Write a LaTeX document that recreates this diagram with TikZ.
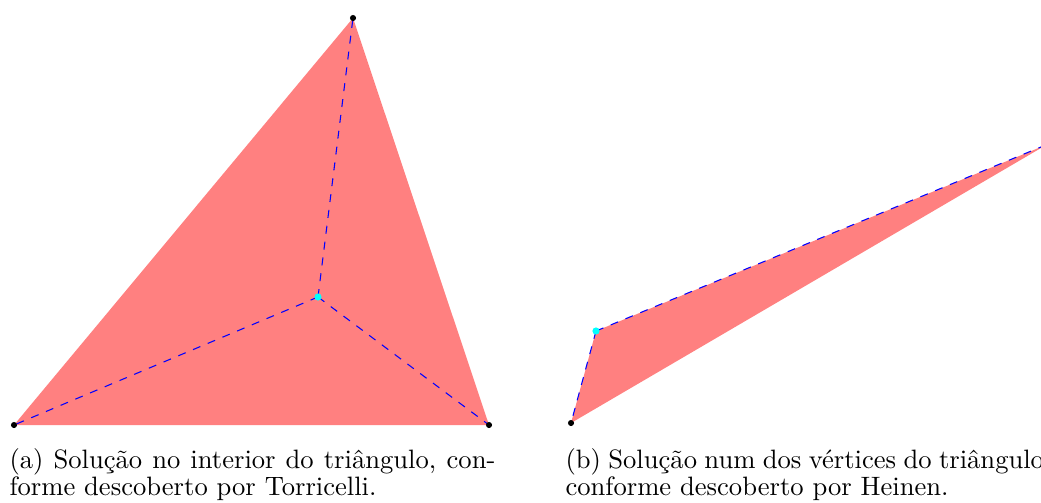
\documentclass[tikz,border=0pt]{standalone}
\usepackage{fontspec}
\definecolor{fpt}{RGB}{0,255,255}
\begin{document}
\begin{tikzpicture}[x=0.376pt,y=-0.376pt,
  dot/.style={circle,fill=black,inner sep=0pt,minimum size=2.3pt},
  fdot/.style={circle,fill=fpt,inner sep=0pt,minimum size=2.7pt},
  conn/.style={blue,dashed},
  area/.style={fill=red!50},
  captext/.style={anchor=base west,inner sep=0pt}]
\useasboundingbox (0,0) rectangle (1041,502);
% left triangle
\coordinate (A) at (14,425);
\coordinate (B) at (489,425);
\coordinate (C) at (353,18);
\coordinate (F) at (318,297);
\fill[area] (A) -- (B) -- (C) -- cycle;
\draw[conn] (F) -- (A);
\draw[conn] (F) -- (B);
\draw[conn] (F) -- (C);
\node[dot] (Ad) at (A) {};
\node[dot] (Bd) at (B) {};
\node[dot] (Cd) at (C) {};
\node[fdot] (Fd) at (F) {};
% right triangle
\coordinate (D) at (571,423);
\coordinate (G) at (596,331);
\coordinate (E) at (1047,144.5);
\fill[area] (D) -- (G) -- (E) -- cycle;
\draw[conn] (G) -- (D);
\draw[conn] (G) -- (E);
\node[dot] (Dd) at (D) {};
\node[dot] (Ed) at (E) {};
\node[fdot] (Gd) at (G) {};
% captions
\node[captext] (ca1) at (9,468.5) {\makebox[182.7pt][s]{(a) Solução no interior do triângulo, con-}};
\node[captext] (ca2) at (9,495.5) {forme descoberto por Torricelli.};
\node[captext] (cb1) at (565,468.5) {\makebox[182.7pt][s]{(b) Solução num dos vértices do triângulo,}};
\node[captext] (cb2) at (565,495.5) {conforme descoberto por Heinen.};
\end{tikzpicture}
\end{document}
